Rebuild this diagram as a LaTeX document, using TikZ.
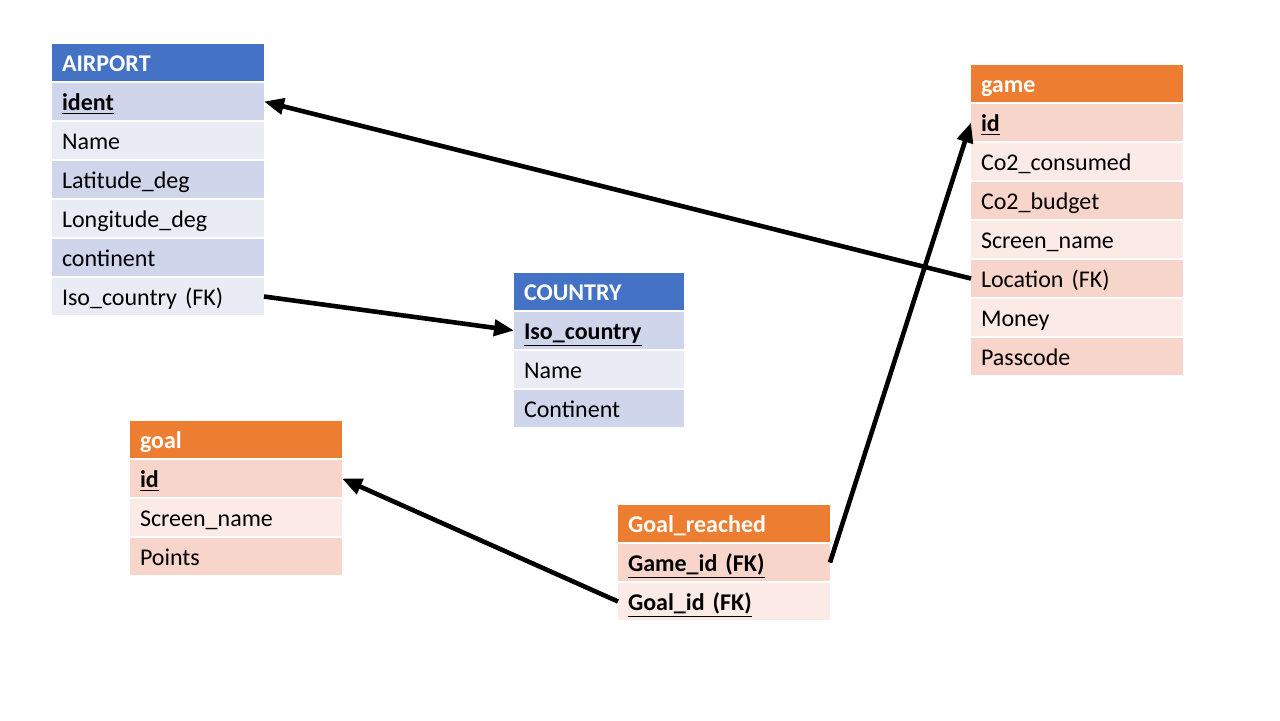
\documentclass[tikz,border=0pt]{standalone}
\usepackage{fontspec}
\setmainfont{Carlito}
\usetikzlibrary{positioning}
\usetikzlibrary{chains}
\usetikzlibrary{arrows.meta}

\definecolor{bhead}{HTML}{4472C4}
\definecolor{bdark}{HTML}{CFD5EA}
\definecolor{blight}{HTML}{E9EBF5}
\definecolor{ohead}{HTML}{ED7D31}
\definecolor{odark}{HTML}{F8D5CB}
\definecolor{olight}{HTML}{FBEAE6}

\begin{document}
\begin{tikzpicture}[x=0.5pt,y=-0.5pt,
        node distance = 1pt,
        >={Triangle[length=10pt,width=8pt]},
        tab/.style = {on chain,minimum height=18.5pt,inner ysep=0pt,outer sep=0pt,
            text height=10pt,text depth=1.5pt,
            inner xsep=5pt,text width=96pt,align=left,font=\fontsize{12pt}{14pt}\selectfont},
        head/.style = {tab,fill=#1,text=white,font=\fontsize{12pt}{14pt}\selectfont\bfseries},
        row/.style = {tab,fill=#1},
        link/.style = {->,line width=2.3pt}]
    \useasboundingbox (0,0) rectangle (1280,720);
    % AIRPORT
    \begin{scope}[start chain = going below]
        \node[head=bhead,at={(52,44)},anchor=north west](a0) {AIRPORT};
        \node[row=bdark](a1) {\underline{\textbf{ident}}};
        \node[row=blight](a2) {Name};
        \node[row=bdark](a3) {Latitude\_deg};
        \node[row=blight](a4) {Longitude\_deg};
        \node[row=bdark](a5) {continent};
        \node[row=blight](a6) {Iso\_country (FK)};
    \end{scope}
    % COUNTRY
    \begin{scope}[start chain = going below,tab/.append style={text width=75pt}]
        \node[head=bhead,at={(514,273)},anchor=north west](c0) {COUNTRY};
        \node[row=bdark](c1) {\underline{\textbf{Iso\_country}}};
        \node[row=blight](c2) {Name};
        \node[row=bdark](c3) {Continent};
    \end{scope}
    % game
    \begin{scope}[start chain = going below]
        \node[head=ohead,at={(971,65)},anchor=north west](g0) {game};
        \node[row=odark](g1) {\underline{\textbf{id}}};
        \node[row=olight](g2) {Co2\_consumed};
        \node[row=odark](g3) {Co2\_budget};
        \node[row=olight](g4) {Screen\_name};
        \node[row=odark](g5) {Location (FK)};
        \node[row=olight](g6) {Money};
        \node[row=odark](g7) {Passcode};
    \end{scope}
    % goal
    \begin{scope}[start chain = going below]
        \node[head=ohead,at={(130,421)},anchor=north west](o0) {goal};
        \node[row=odark](o1) {\underline{\textbf{id}}};
        \node[row=olight](o2) {Screen\_name};
        \node[row=odark](o3) {Points};
    \end{scope}
    % Goal_reached
    \begin{scope}[start chain = going below]
        \node[head=ohead,at={(618,505)},anchor=north west](r0) {Goal\_reached};
        \node[row=odark](r1) {\underline{\textbf{Game\_id (FK)}}};
        \node[row=olight](r2) {\underline{\textbf{Goal\_id (FK)}}};
    \end{scope}
    \path[link]
        (g5.west) edge (a1.east)
        (a6.east) edge (c1.west)
        (r1.east) edge (g1.west)
        (r2.west) edge (o1.east);
\end{tikzpicture}
\end{document}
